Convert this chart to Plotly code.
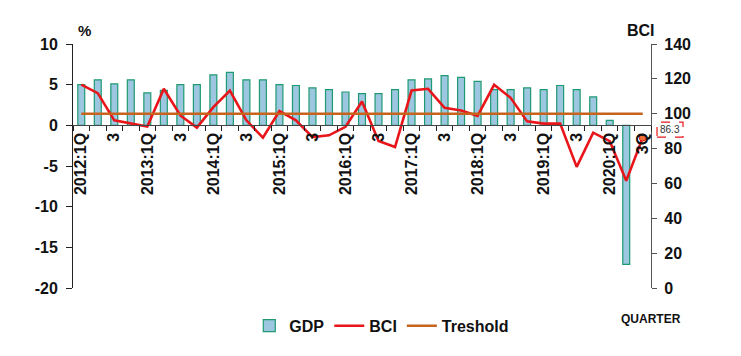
import plotly.graph_objects as go

# ---- data ----
quarters = [f"{y}Q{q}" for y in range(2012, 2021) for q in range(1, 5)][:35]
tick_labels = [
    "2012:1Q", "", "3", "",
    "2013:1Q", "", "3", "",
    "2014:1Q", "", "3", "",
    "2015:1Q", "", "3", "",
    "2016:1Q", "", "3", "",
    "2017:1Q", "", "3", "",
    "2018:1Q", "", "3", "",
    "2019:1Q", "", "3", "",
    "2020:1Q", "", "3Q",
]
gdp = [5.0, 5.6, 5.1, 5.6,
       4.0, 4.3, 5.0, 5.0,
       6.2, 6.5, 5.6, 5.6,
       5.0, 4.9, 4.6, 4.4,
       4.1, 3.9, 3.9, 4.4,
       5.6, 5.7, 6.1, 5.9,
       5.4, 4.4, 4.4, 4.6,
       4.4, 4.9, 4.4, 3.5,
       0.6, -17.1, None]
bci = [116.7, 111.8, 96.2, 94.6,
       92.7, 114.3, 99.0, 92.0,
       103.8, 113.3, 96.2, 86.3,
       101.5, 96.2, 86.6, 87.6,
       92.5, 107.0, 84.4, 80.9,
       113.3, 114.3, 103.4, 101.9,
       98.8, 116.6, 109.1, 95.6,
       94.3, 94.3, 69.5, 89.1,
       84.3, 61.5, 86.3]
threshold = [100] * len(quarters)
last_label = "86.3"
gdp_ticks = [10, 5, 0, -5, -10, -15, -20]
gdp_tick_text = ["10", "5", "0", "-5", "-10", "-15", "-20"]

FONT = "Arial, Liberation Sans, sans-serif"

fig = go.Figure()
fig.add_trace(go.Bar(
    x=quarters, y=gdp, name="GDP", yaxis="y",
    marker=dict(color="#9DC6E0", line=dict(color="#1E9A72", width=1.2)),
))
fig.add_trace(go.Scatter(
    x=quarters, y=bci, name="BCI", yaxis="y2", mode="lines",
    line=dict(color="#E8161B", width=2.6),
))
fig.add_trace(go.Scatter(
    x=quarters, y=threshold, name="Treshold", yaxis="y2", mode="lines",
    line=dict(color="#C8631E", width=2.6),
))
fig.add_trace(go.Scatter(
    x=[quarters[-1]], y=[bci[-1]], yaxis="y2", mode="markers", showlegend=False,
    marker=dict(color="#F0703A", size=7, line=dict(color="#E8161B", width=1)),
))

bold = dict(family=FONT, size=16, color="#111", weight="bold")

fig.update_layout(
    width=741, height=356,
    margin=dict(l=65, r=98, t=36, b=76),
    paper_bgcolor="white", plot_bgcolor="white",
    bargap=0.58,
    font=dict(family=FONT),
    xaxis=dict(
        type="category", categoryorder="array", categoryarray=quarters,
        range=[-0.5, len(quarters) - 0.5], autorange=False,
        tickvals=quarters, ticktext=tick_labels, tickangle=-90,
        tickson="boundaries", ticks="outside", ticklen=5, tickcolor="#222",
        showline=True, linecolor="#444", linewidth=1.2,
        anchor="free", position=20 / 30,
        tickfont=bold, showgrid=False, zeroline=False, automargin=False,
    ),
    yaxis=dict(
        range=[-20, 10], tickvals=gdp_ticks, ticktext=gdp_tick_text,
        ticks="outside", ticklen=6, tickcolor="#222", ticklabelstandoff=5,
        showline=True, linecolor="#222", linewidth=1,
        tickfont=bold, showgrid=False, zeroline=False, automargin=False,
    ),
    yaxis2=dict(
        range=[0, 140], dtick=20, overlaying="y", side="right",
        ticks="outside", ticklen=5, tickcolor="#555", ticklabelstandoff=4,
        showline=True, linecolor="#555", linewidth=1.2,
        tickfont=bold, showgrid=False, zeroline=False, automargin=False,
    ),
    legend=dict(
        orientation="h", x=0.305, y=-0.155, xanchor="left", yanchor="middle",
        font=dict(family=FONT, size=16, color="#111", weight="bold"),
        itemwidth=30, tracegroupgap=0, bgcolor="rgba(0,0,0,0)",
    ),
    showlegend=True,
)

fig.add_annotation(text="%", xref="paper", yref="paper", x=0.02, y=1.0,
                   xanchor="center", yanchor="bottom", showarrow=False, yshift=3,
                   font=dict(family=FONT, size=15, color="#111", weight="bold"))
fig.add_annotation(text="BCI", xref="paper", yref="paper", x=0.982, y=1.0,
                   xanchor="center", yanchor="bottom", showarrow=False, yshift=3,
                   font=dict(family=FONT, size=16, color="#111", weight="bold"))
fig.add_annotation(text="QUARTER", xref="paper", yref="paper", x=1.0, y=-0.125,
                   xanchor="center", yanchor="middle", showarrow=False,
                   font=dict(family=FONT, size=12, color="#111", weight="bold"))

# value box for the latest BCI reading
fig.add_shape(type="rect", xref="paper", yref="y2", x0=1.0104, x1=1.0554,
              y0=bci[-1] + 0.3, y1=bci[-1] + 8.9,
              line=dict(color="#E8161B", width=1.2, dash="dash"),
              fillcolor="white")
fig.add_annotation(text=last_label, xref="paper", yref="y2", x=1.0329,
                   y=bci[-1] + 4.6, xanchor="center", yanchor="middle",
                   showarrow=False,
                   font=dict(family=FONT, size=10, color="#333"))

fig.write_html("out.html")
